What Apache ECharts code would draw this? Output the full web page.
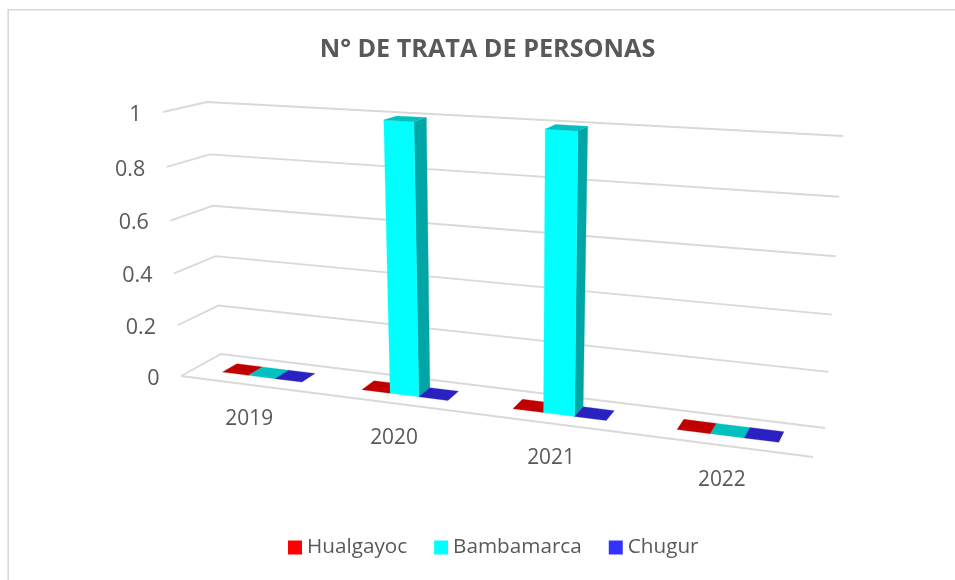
<!DOCTYPE html>
<html>
<head>
<meta charset="utf-8">
<style>html,body{margin:0;padding:0;background:#fff}#c{width:955px;height:580px}</style>
<script src="https://cdn.jsdelivr.net/npm/echarts@6/dist/echarts.min.js"></script>
</head>
<body>
<div id="c"></div>
<script>
const categories = ['2019', '2020', '2021', '2022'];
const yTicks = [0, 0.2, 0.4, 0.6, 0.8, 1];
const hualgayoc = [0, 0, 0, 0];
const bambamarca = [0, 1, 1, 0];
const chugur = [0, 0, 0, 0];
const titleText = 'N° DE TRATA DE PERSONAS';

// Perspective box: corners of the 3D plot as seen on screen
const BOX = {
  flb: [181, 376], blb: [221, 354], brb: [825, 428], frb: [813, 457],
  flt: [163, 112], blt: [207, 102], brt: [843, 136], frt: [828, 150]
};
const X_PERSPECTIVE = 1.18, Y_PERSPECTIVE = 1.05;
const Z_FRONT = 0.34, Z_BACK = 0.71, BAR_FRACTION = 0.193;
const LINE = '#d9d9d9', TEXT = '#595959', FONT = '"Open Sans", sans-serif';

const lerp = (a, b, k) => [a[0] + (b[0] - a[0]) * k, a[1] + (b[1] - a[1]) * k];
function project(u, v, z) {
  const t = u / (u + X_PERSPECTIVE * (1 - u));
  const s = v / (v + Y_PERSPECTIVE * (1 - v));
  const bottom = lerp(lerp(BOX.flb, BOX.frb, t), lerp(BOX.blb, BOX.brb, t), z);
  const top = lerp(lerp(BOX.flt, BOX.frt, t), lerp(BOX.blt, BOX.brt, t), z);
  return lerp(bottom, top, s);
}
function toUnit(params, api, x, y) {
  const cs = params.coordSys;
  const p = api.coord([x, y]);
  return [(p[0] - cs.x) / cs.width, (cs.y + cs.height - p[1]) / cs.height, api.size([1, 0])[0] / cs.width];
}
const poly = (points, fill) => ({ type: 'polygon', shape: { points }, style: { fill, stroke: fill, lineWidth: 0.3 } });

function barSeries(name, values, index, front, top, side) {
  return {
    name, type: 'custom', clip: false, z: 3,
    itemStyle: { color: front },
    encode: { x: 0, y: 1 },
    data: values.map((v, i) => [i, v]),
    renderItem(params, api) {
      const [cu, v, band] = toUnit(params, api, api.value(0), api.value(1));
      const w = band * BAR_FRACTION;
      const c = cu + (index - 1) * w;
      const u0 = c - w / 2, u1 = c + w / 2;
      const children = [];
      if (v > 0) {
        children.push(poly([project(u1, 0, Z_FRONT), project(u1, 0, Z_BACK), project(u1, v, Z_BACK), project(u1, v, Z_FRONT)], side));
        children.push(poly([project(u0, 0, Z_FRONT), project(u1, 0, Z_FRONT), project(u1, v, Z_FRONT), project(u0, v, Z_FRONT)], front));
      }
      children.push(poly([project(u0, v, Z_FRONT), project(u1, v, Z_FRONT), project(u1, v, Z_BACK), project(u0, v, Z_BACK)], top));
      return { type: 'group', children };
    }
  };
}

const frameSeries = {
  name: 'axisY', type: 'custom', clip: false, z: 1, silent: true,
  encode: { x: 0, y: 1 },
  data: yTicks.map(t => [0, t]),
  renderItem(params, api) {
    const [, v] = toUnit(params, api, api.value(0), api.value(1));
    const a = project(0, v, 0), b = project(0, v, 1), c = project(1, v, 1);
    const lineStyle = { stroke: LINE, lineWidth: 1.9, fill: null };
    const children = [{ type: 'polyline', shape: { points: [a, b, c] }, style: lineStyle }];
    if (v === 0) children.push({ type: 'polyline', shape: { points: [a, project(1, 0, 0)] }, style: lineStyle });
    children.push({
      type: 'text',
      style: { x: a[0] - 21.5, y: a[1] + 2.5, text: String(api.value(1)), textAlign: 'right', textVerticalAlign: 'middle', fill: TEXT, font: '21.5px ' + FONT }
    });
    return { type: 'group', children };
  }
};

const categorySeries = {
  name: 'axisX', type: 'custom', clip: false, z: 2, silent: true,
  encode: { x: 0, y: 1 },
  data: categories.map((c, i) => [i, 0]),
  renderItem(params, api) {
    const [u, v] = toUnit(params, api, api.value(0), 0);
    const p = project(u, v, 0);
    return {
      type: 'text',
      style: { x: p[0], y: p[1] + 34.5, text: categories[api.value(0)], textAlign: 'center', textVerticalAlign: 'middle', fill: TEXT, font: '20.9px ' + FONT }
    };
  }
};

const chart = echarts.init(document.getElementById('c'), null, { renderer: 'canvas' });
chart.setOption({
  animation: false,
  backgroundColor: '#fff',
  title: {
    text: titleText, left: 482.5, top: 32, textAlign: 'center',
    textStyle: { color: TEXT, fontFamily: FONT, fontWeight: 'bold', fontSize: 25.2 }
  },
  legend: {
    left: 283, top: 532, itemWidth: 14, itemHeight: 14, itemGap: 27, icon: 'rect',
    data: ['Hualgayoc', 'Bambamarca', 'Chugur'],
    textStyle: { color: TEXT, fontFamily: FONT, fontSize: 20.7 }
  },
  grid: { left: 181, right: 130, top: 112, bottom: 120 },
  xAxis: { type: 'category', data: categories, show: false },
  yAxis: { type: 'value', min: 0, max: 1, interval: 0.2, show: false },
  graphic: [{
    type: 'polyline', silent: true, z: -1,
    shape: { points: [[8.2, 582], [8.2, 9.8], [957, 9.8]] },
    style: { stroke: LINE, lineWidth: 1.6, fill: null }
  }],
  series: [
    frameSeries,
    categorySeries,
    barSeries('Hualgayoc', hualgayoc, 0, '#ff0000', '#c00000', '#a60000'),
    barSeries('Bambamarca', bambamarca, 1, '#00ffff', '#00c0c0', '#00a6a6'),
    barSeries('Chugur', chugur, 2, '#3333ff', '#2a22c0', '#2222a6')
  ]
});
</script>
</body>
</html>
